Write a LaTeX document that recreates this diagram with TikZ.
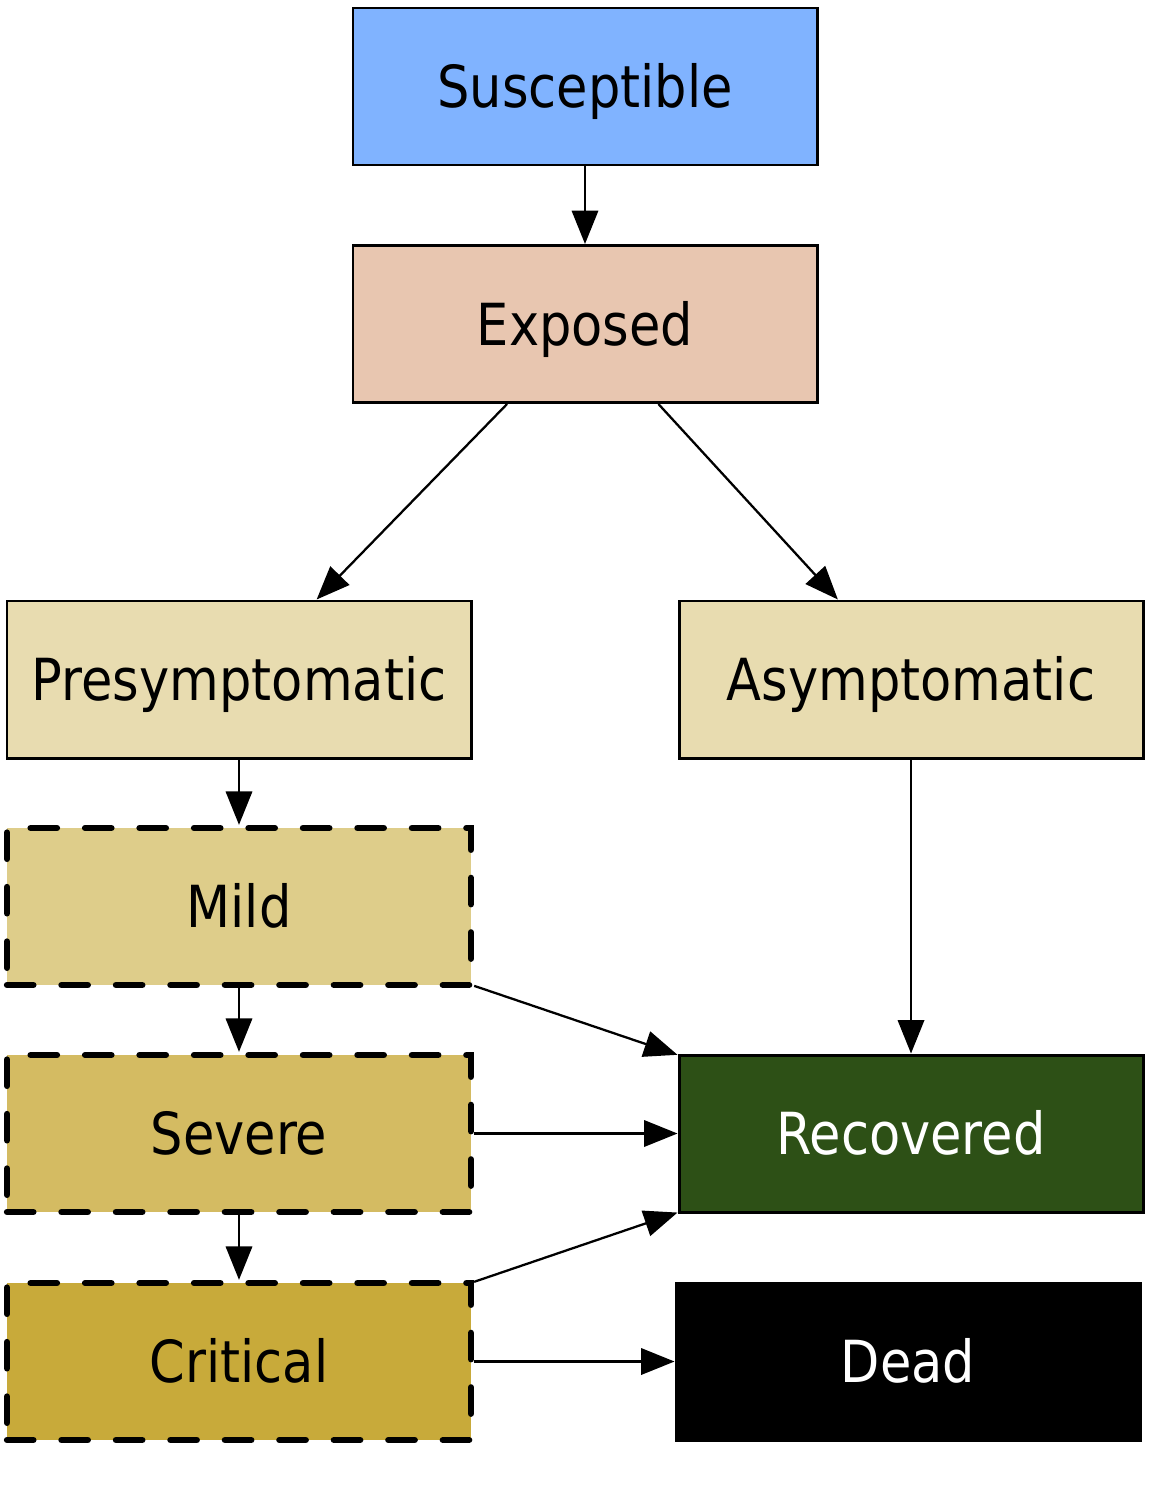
\documentclass[tikz,border=0pt]{standalone}
\usepackage{fontspec}
\setmainfont{DejaVu Sans}[FakeStretch=0.88]
\usetikzlibrary{arrows.meta}

\definecolor{suscol}{HTML}{80B3FF}
\definecolor{expcol}{HTML}{E8C6B0}
\definecolor{infcol}{HTML}{E8DCB0}
\definecolor{mildcol}{HTML}{DECD8A}
\definecolor{sevcol}{HTML}{D4BB62}
\definecolor{critcol}{HTML}{C8AA3A}
\definecolor{reccol}{HTML}{2D5016}

\begin{document}
\begin{tikzpicture}[
    state/.style={draw=black, line width=1.7pt, minimum width=9.28cm, minimum height=3.14cm,
      inner sep=0pt, text height=24pt, text depth=0pt, font=\fontsize{33}{40}\selectfont},
    sick/.style={state, line width=3.6pt, dash pattern=on 15pt off 16pt, line cap=round},
    flow/.style={-{Triangle[length=19pt,width=15pt]}, line width=1.3pt}
  ]
  % Rozmery obrazku
  \useasboundingbox (0,0) rectangle (23.06,-30);

  % Horni cast
  \node[state, fill=suscol] (sus) at (11.70,-1.73) {Susceptible};
  \node[state, fill=expcol] (exp) at (11.70,-6.48) {Exposed};
  % Dve vetve
  \node[state, fill=infcol] (pre) at (4.78,-13.59) {Presymptomatic};
  \node[state, fill=infcol] (asy) at (18.22,-13.59) {Asymptomatic};
  % Priznaky
  \node[sick, fill=mildcol] (mild) at (4.78,-18.13) {Mild};
  \node[sick, fill=sevcol] (sev) at (4.78,-22.67) {Severe};
  \node[sick, fill=critcol] (crit) at (4.78,-27.23) {Critical};
  % Konec
  \node[state, fill=reccol, text=white] (rec) at (18.22,-22.67) {Recovered};
  \node[state, fill=black, text=white] (dead) at (18.16,-27.23) {Dead};

  % Prechody
  \draw[flow] (sus) -- (exp);
  \draw[flow] (exp) -- (pre);
  \draw[flow] (exp) -- (asy);
  \draw[flow] (pre) -- (mild);
  \draw[flow] (mild) -- (sev);
  \draw[flow] (sev) -- (crit);
  \draw[flow] (asy) -- (rec);
  \draw[flow] (mild) -- (rec);
  \draw[flow] (sev) -- (rec);
  \draw[flow] (crit) -- (rec);
  \draw[flow] (crit) -- (dead);
\end{tikzpicture}
\end{document}
